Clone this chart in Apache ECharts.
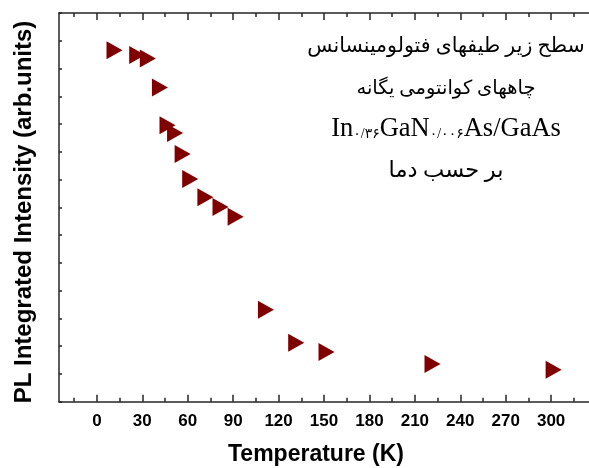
<!DOCTYPE html>
<html>
<head>
<meta charset="utf-8">
<script src="https://cdn.jsdelivr.net/npm/echarts@6/dist/echarts.min.js"></script>
<style>html,body{margin:0;padding:0;background:#fff;}#c{width:589px;height:468px;}</style>
</head>
<body>
<div id="c"></div>
<script>
const temperatures = [10, 25, 32, 40, 45, 50, 55, 60, 70, 80, 90, 110, 130, 150, 220, 300];
const intensity = [12.66, 12.49, 12.36, 11.32, 9.96, 9.68, 8.92, 8.02, 7.36, 7.01, 6.66, 3.31, 2.12, 1.79, 1.36, 1.15];
const xMajorTicks = [0, 30, 60, 90, 120, 150, 180, 210, 240, 270, 300];
const xMinorTicks = [-15, 15, 45, 75, 105, 135, 165, 195, 225, 255, 285, 315];
const xTitle = 'Temperature (K)';
const yTitle = 'PL Integrated Intensity (arb.units)';
const noteLine1 = 'سطح زیر طیفهای فتولومینسانس';
const noteLine2 = 'چاههای کوانتومی یگانه';
const noteLine4 = 'بر حسب دما';

const chart = echarts.init(document.getElementById('c'));
const axisColor = '#262626';
const lineStyle = {color: axisColor, width: 1.5};
function xAx(pos, ticks, len, showLine, showLabel) {
  return {
    type: 'value', position: pos, min: -25, max: 325,
    axisLine: {show: showLine, onZero: false, lineStyle: lineStyle},
    axisTick: {show: true, inside: true, length: len, customValues: ticks, lineStyle: lineStyle},
    axisLabel: {show: showLabel, customValues: xMajorTicks, margin: 11, color: '#000',
      fontFamily: 'Liberation Sans, Arial, sans-serif', fontWeight: 'bold', fontSize: 17},
    splitLine: {show: false}
  };
}
const data = temperatures.map((t, i) => [t, intensity[i]]);
chart.setOption({
  animation: false,
  grid: {left: 59, top: 13, width: 532, height: 388.7, containLabel: false},
  xAxis: [
    xAx('bottom', xMajorTicks, 7, true, true),
    xAx('bottom', xMinorTicks, 4, false, false),
    xAx('top', xMajorTicks, 7, true, false),
    xAx('top', xMinorTicks, 4, false, false)
  ],
  yAxis: [{type: 'value', position: 'left', min: 0, max: 14, interval: 1,
    axisLine: {show: true, onZero: false, lineStyle: lineStyle},
    axisTick: {show: true, inside: true, length: 3, lineStyle: lineStyle},
    axisLabel: {show: false}, splitLine: {show: false}}],
  series: [{
    type: 'scatter', xAxisIndex: 0, yAxisIndex: 0, data: data,
    symbol: 'triangle', symbolSize: [18, 16], symbolRotate: -90, symbolOffset: [2.5, 0],
    itemStyle: {color: '#800000', opacity: 1}
  }],
  graphic: [
    {type: 'text', x: 316, y: 455, style: {text: xTitle, fill: '#000', font: 'bold 23px "Liberation Sans", Arial, sans-serif', textAlign: 'center', textVerticalAlign: 'middle'}},
    {type: 'text', x: 24, y: 212, rotation: Math.PI / 2, style: {text: yTitle, fill: '#000', font: 'bold 24px "Liberation Sans", Arial, sans-serif', textAlign: 'center', textVerticalAlign: 'middle'}},
    {type: 'text', x: 446, y: 47, style: {text: noteLine1, fill: '#000', font: '20.5px "Liberation Serif", "DejaVu Sans", serif', textAlign: 'center', textVerticalAlign: 'middle'}},
    {type: 'text', x: 446, y: 89, style: {text: noteLine2, fill: '#000', font: '19.5px "Liberation Serif", "DejaVu Sans", serif', textAlign: 'center', textVerticalAlign: 'middle'}},
    {type: 'text', x: 446, y: 129, style: {
      text: 'In{s|۰/۳۶}GaN{s|۰/۰۰۶}As/GaAs', fill: '#000', font: '26.5px "Liberation Serif", serif',
      textAlign: 'center', textVerticalAlign: 'middle',
      rich: {s: {font: '14px "Liberation Serif", "DejaVu Sans", serif', padding: [11, 0, 0, 0], fill: '#000'}}
    }},
    {type: 'text', x: 446, y: 171, style: {text: noteLine4, fill: '#000', font: '22.5px "Liberation Serif", "DejaVu Sans", serif', textAlign: 'center', textVerticalAlign: 'middle'}}
  ]
});
</script>
</body>
</html>
